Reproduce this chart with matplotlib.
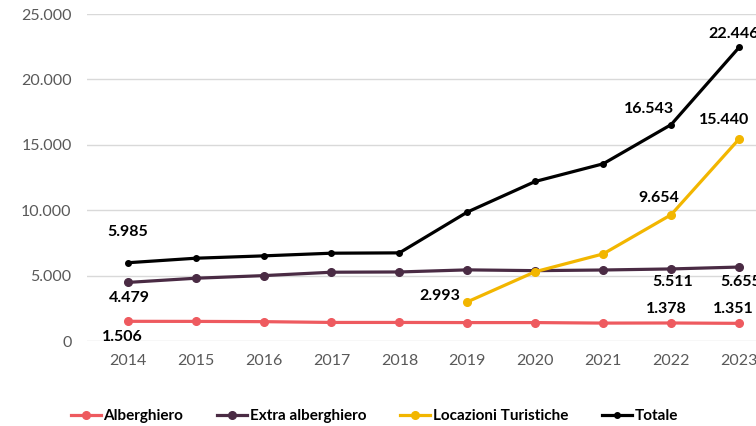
import matplotlib
matplotlib.use("Agg")
from matplotlib import pyplot as plt
from matplotlib.ticker import FuncFormatter

years = ['2014', '2015', '2016', '2017', '2018', '2019', '2020', '2021', '2022', '2023']
alberghiero = [1506, 1500, 1480, 1420, 1420, 1410, 1410, 1370, 1378, 1351]
extra = [4479, 4800, 5000, 5260, 5280, 5440, 5380, 5430, 5511, 5655]
locazioni = [None, None, None, None, None, 2993, 5300, 6660, 9654, 15440]
totale = [5985, 6330, 6510, 6715, 6740, 9860, 12200, 13550, 16543, 22446]

plt.rcParams['font.family'] = ['Lato', 'DejaVu Sans']

def fmt(v):
    return '{:,}'.format(int(v)).replace(',', '.')

fig = plt.figure(figsize=(7.56, 4.26), dpi=100)
ax = fig.add_axes([0.115, 0.1995, 0.885, 0.7675])

x = list(range(len(years)))
ax.plot(x, alberghiero, color='#EE5A5F', lw=2.3, marker='o', ms=5.5, label='Alberghiero', zorder=3)
ax.plot(x, extra, color='#4A2B44', lw=2.3, marker='o', ms=5.5, label='Extra alberghiero', zorder=3)
xl = [i for i, v in zip(x, locazioni) if v is not None]
yl = [v for v in locazioni if v is not None]
ax.plot(xl, yl, color='#F2B600', lw=2.3, marker='o', ms=5.5, label='Locazioni Turistiche', zorder=4)
ax.plot(x, totale, color='black', lw=2.3, marker='o', ms=4, label='Totale', zorder=5)

lab = dict(fontsize=11.5, fontweight='bold', color='black', ha='center', va='center',
           textcoords='offset points')
# label offsets in points (dx, dy)
ax.annotate(fmt(totale[0]), (0, totale[0]), xytext=(0, 22), **lab)
ax.annotate(fmt(extra[0]), (0, extra[0]), xytext=(1, -11.5), **lab)
ax.annotate(fmt(alberghiero[0]), (0, alberghiero[0]), xytext=(-4, -11), **lab)
ax.annotate(fmt(locazioni[5]), (5, locazioni[5]), xytext=(-20, 4), **lab)
ax.annotate(fmt(locazioni[8]), (8, locazioni[8]), xytext=(-9, 12), **lab)
ax.annotate(fmt(totale[8]), (8, totale[8]), xytext=(-16, 11.5), **lab)
ax.annotate(fmt(totale[9]), (9, totale[9]), xytext=(-4, 10), **lab)
ax.annotate(fmt(locazioni[9]), (9, locazioni[9]), xytext=(-11, 14), **lab)
ax.annotate(fmt(extra[8]), (8, extra[8]), xytext=(1, -9.5), **lab)
ax.annotate(fmt(extra[9]), (9, extra[9]), xytext=(1, -11), **lab)
ax.annotate(fmt(alberghiero[8]), (8, alberghiero[8]), xytext=(-3.6, 10), **lab)
ax.annotate(fmt(alberghiero[9]), (9, alberghiero[9]), xytext=(-4, 10), **lab)

ax.set_xlim(-0.6, 9.25)
ax.set_ylim(0, 25000)
ax.set_xticks(x)
ax.set_xticklabels(years)
ax.set_yticks(range(0, 25001, 5000))
ax.yaxis.set_major_formatter(FuncFormatter(lambda v, p: fmt(v)))
ax.tick_params(axis='both', length=0, labelsize=11.5, labelcolor='#595959')
ax.tick_params(axis='y', pad=11)
ax.tick_params(axis='x', pad=9)
ax.grid(axis='y', color='#D9D9D9', lw=1)
ax.set_axisbelow(True)
for s in ax.spines.values():
    s.set_visible(False)

fig.legend(loc='center', bbox_to_anchor=(0.495, 0.0235), ncol=4, frameon=False,
           prop={'weight': 'bold', 'size': 11}, handlelength=2.0, columnspacing=2.2,
           handletextpad=0.15)

fig.savefig('out.png', dpi=100)
